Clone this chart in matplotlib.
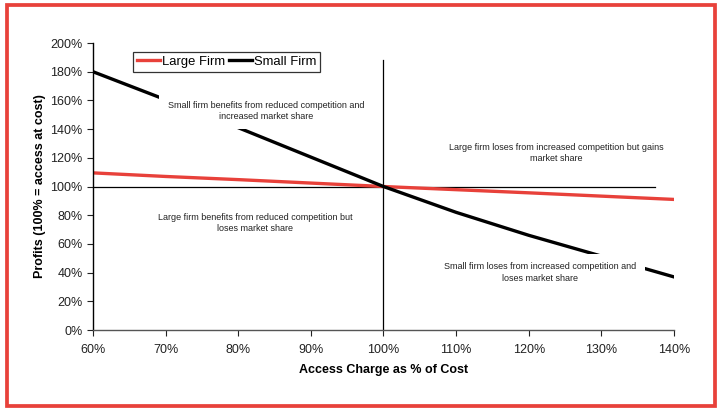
import matplotlib.pyplot as plt
from matplotlib.patches import Rectangle
from matplotlib.ticker import FuncFormatter

plt.rcParams['font.family'] = ['Liberation Sans', 'DejaVu Sans']

# access charge as % of cost
access = [60, 70, 80, 90, 100, 110, 120, 130, 140]
# profits relative to access-at-cost (%)
large_firm = [109.5, 107, 104.8, 102.4, 100, 97.8, 95.6, 93.3, 91]
small_firm = [180, 160.5, 141, 120.5, 100, 82, 66, 51.5, 37]

notes = [
    (83.8, 152.6, "Small firm benefits from reduced competition and\nincreased market share"),
    (82.3, 74.6, "Large firm benefits from reduced competition but\nloses market share"),
    (123.8, 123.3, "Large firm loses from increased competition but gains\nmarket share"),
    (121.6, 40.0, "Small firm loses from increased competition and\nloses market share"),
]

fig = plt.figure(figsize=(7.18, 4.12), dpi=100)
ax = fig.add_axes([0.1295, 0.199, 0.8092, 0.6966])

# reference lines through the break-even point
ax.plot([60, 137.4], [100, 100], color='black', lw=0.9, zorder=1)
ax.plot([100, 100], [0, 188], color='black', lw=0.9, zorder=1)

ax.plot(access, large_firm, color='#e8413a', lw=2.4, label='Large Firm', zorder=2)
ax.plot(access, small_firm, color='black', lw=2.4, label='Small Firm', zorder=2)

for x, y, txt in notes:
    ax.text(x, y, txt, ha='center', va='center', fontsize=6.5, color='#222222',
            linespacing=1.35, zorder=3,
            bbox=dict(boxstyle='square,pad=0.9', fc='white', ec='none'))

ax.set_xlim(60, 140)
ax.set_ylim(0, 200)
ax.set_xticks(range(60, 141, 10))
ax.set_yticks(range(0, 201, 20))
pct = FuncFormatter(lambda v, p: f"{v:.0f}%")
ax.xaxis.set_major_formatter(pct)
ax.yaxis.set_major_formatter(pct)
ax.tick_params(labelsize=9, length=4, width=0.8, colors='#222222')
ax.tick_params(axis='x', pad=6)

for s in ['top', 'right']:
    ax.spines[s].set_visible(False)
ax.spines['left'].set_linewidth(1.0)
ax.spines['bottom'].set_color('#555555')
ax.spines['bottom'].set_linewidth(1.0)

ax.set_xlabel("Access Charge as % of Cost", fontsize=9, fontweight='bold', labelpad=6)
ax.set_ylabel("Profits (100% = access at cost)", fontsize=9, fontweight='bold', labelpad=3)

leg = fig.legend(loc='upper left', bbox_to_anchor=(133 / 718, 1 - 52 / 412), ncol=2,
                 fontsize=9.4, frameon=True, fancybox=False, edgecolor='black',
                 handlelength=1.8, handletextpad=0.1, columnspacing=0.3,
                 borderpad=0.3, borderaxespad=0)
leg.get_frame().set_linewidth(0.9)

# outer frame
fig.patches.append(Rectangle((6.5 / 718, 6 / 412), 708.5 / 718, 401 / 412,
                             transform=fig.transFigure, fill=False,
                             edgecolor='#e8413a', lw=2.7))

fig.savefig('out.png', dpi=100)
